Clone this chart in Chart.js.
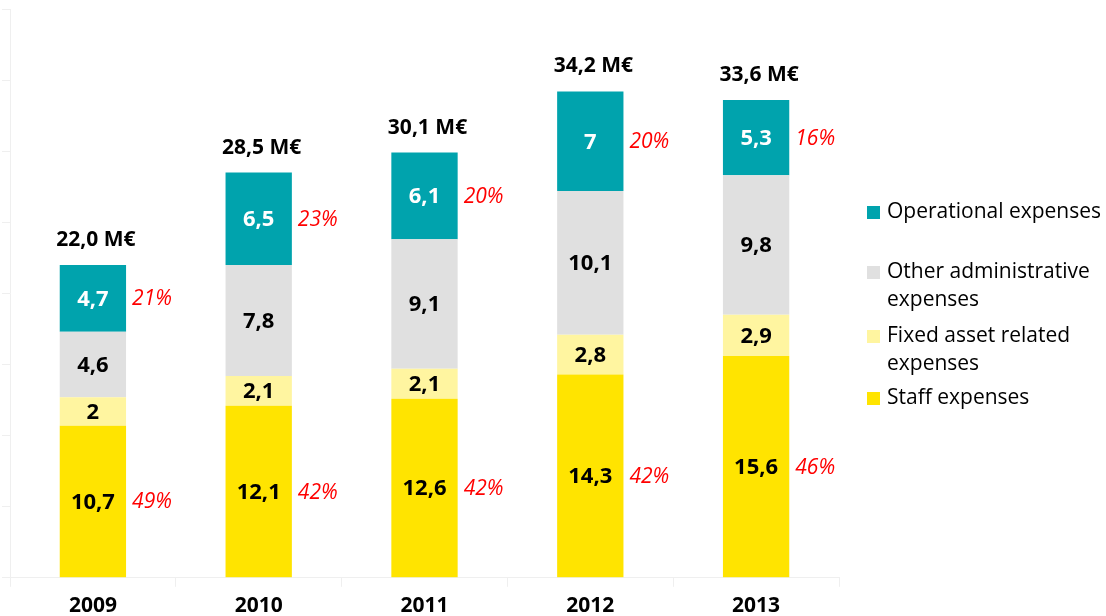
<!DOCTYPE html>
<html>
<head>
<meta charset="utf-8">
<script src="https://cdn.jsdelivr.net/npm/chart.js@4/dist/chart.umd.min.js"></script>
<style>
  html, body { margin: 0; padding: 0; background: #fff; }
  #wrap { width: 1106px; height: 616px; }
</style>
</head>
<body>
<div id="wrap"><canvas id="myChart" width="1106" height="616"></canvas></div>
<script>
// values in M€
const years = ['2009', '2010', '2011', '2012', '2013'];
const staff = [10.7, 12.1, 12.6, 14.3, 15.6];
const fixedAsset = [2, 2.1, 2.1, 2.8, 2.9];
const otherAdmin = [4.6, 7.8, 9.1, 10.1, 9.8];
const operational = [4.7, 6.5, 6.1, 7, 5.3];
const totals = ['22,0 M€', '28,5 M€', '30,1 M€', '34,2 M€', '33,6 M€'];
const staffShare = ['49%', '42%', '42%', '42%', '46%'];
const operationalShare = ['21%', '23%', '20%', '20%', '16%'];

const legendLines = [
    ['Operational expenses'],
    ['Other administrative', 'expenses'],
    ['Fixed asset related', 'expenses'],
    ['Staff expenses']
];

const FONT = '"Open Sans", "DejaVu Sans", sans-serif';
const fmt = v => v.toString().replace('.', ',');

const barLabels = {
    id: 'barLabels',
    afterDatasetsDraw(chart) {
        const ctx = chart.ctx;
        ctx.save();
        ctx.textBaseline = 'middle';

        chart.data.datasets.forEach((ds, i) => {
            const meta = chart.getDatasetMeta(i);
            meta.data.forEach((bar, j) => {
                const mid = (bar.y + bar.base) / 2;
                ctx.textAlign = 'center';
                ctx.font = 'bold 22px ' + FONT;
                ctx.fillStyle = i === 3 ? '#ffffff' : '#000000';
                ctx.fillText(fmt(ds.data[j]), bar.x, mid + 1);

                // shares in red on the right of staff and operational parts
                let share = null;
                if (i === 0) share = staffShare[j];
                if (i === 3) share = operationalShare[j];
                if (share) {
                    ctx.textAlign = 'left';
                    ctx.font = 'italic 21px ' + FONT;
                    ctx.fillStyle = '#ff0000';
                    ctx.fillText(share, bar.x + bar.width / 2 + 6, mid + 1);
                }

                // totals above the top part
                if (i === chart.data.datasets.length - 1) {
                    ctx.textAlign = 'center';
                    ctx.font = 'bold 21px ' + FONT;
                    ctx.fillStyle = '#000000';
                    ctx.fillText(totals[j], bar.x + 3, bar.y - 25);
                }
            });
        });

        // legend on the right, top item first
        const itemY = [212, 272, 336, 398];
        const order = [3, 2, 1, 0];
        ctx.textAlign = 'left';
        ctx.font = '21px ' + FONT;
        order.forEach((dsIndex, k) => {
            const ds = chart.data.datasets[dsIndex];
            ctx.fillStyle = ds.backgroundColor;
            ctx.fillRect(867, itemY[k] - 6, 13, 13);
            ctx.fillStyle = '#000000';
            legendLines[k].forEach((line, n) => {
                ctx.fillText(line, 887, itemY[k] + n * 28);
            });
        });
        ctx.restore();
    }
};

const ctx = document.getElementById('myChart');

new Chart(ctx, {
    type: 'bar',
    data: {
        labels: years,
        datasets: [
            { label: 'Staff expenses', data: staff, backgroundColor: 'rgb(255, 228, 0)' },
            { label: 'Fixed asset related expenses', data: fixedAsset, backgroundColor: 'rgb(255, 245, 160)' },
            { label: 'Other administrative expenses', data: otherAdmin, backgroundColor: 'rgb(224, 224, 224)' },
            { label: 'Operational expenses', data: operational, backgroundColor: 'rgb(0, 163, 173)' }
        ]
    },
    options: {
        responsive: false,
        animation: false,
        layout: {
            padding: { left: 2, right: 267, top: 9, bottom: -10 }
        },
        datasets: {
            bar: { barPercentage: 0.4, categoryPercentage: 1 }
        },
        plugins: {
            legend: { display: false },
            title: { display: false },
            tooltip: { enabled: false }
        },
        scales: {
            x: {
                stacked: true,
                grid: {
                    drawOnChartArea: false,
                    drawTicks: true,
                    tickLength: 9,
                    color: '#efefef'
                },
                border: { color: '#efefef' },
                ticks: {
                    padding: 7,
                    color: '#000000',
                    font: { family: FONT, size: 21, weight: 'bold' }
                }
            },
            y: {
                stacked: true,
                min: 0,
                max: 40,
                grid: {
                    drawOnChartArea: false,
                    drawTicks: true,
                    tickLength: 8,
                    color: '#efefef'
                },
                border: { color: '#efefef' },
                ticks: { stepSize: 5, display: false }
            }
        }
    },
    plugins: [barLabels]
});
</script>
</body>
</html>
